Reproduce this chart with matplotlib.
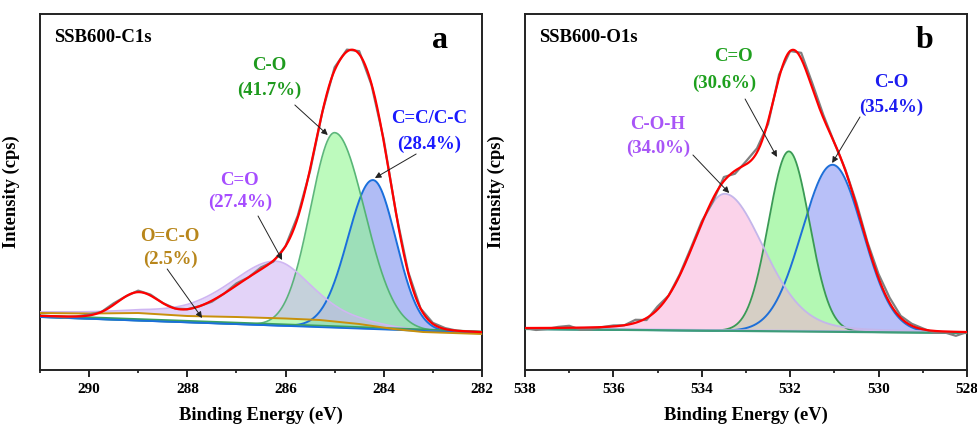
import numpy as np
import matplotlib
matplotlib.use('Agg')
from matplotlib import pyplot as plt

plt.rcParams['font.family'] = ['Liberation Serif', 'DejaVu Serif']
plt.rcParams['font.weight'] = 'bold'

# ---- C1s panel (a) ----
c1s_xlim = (291, 282)
c1s_ticks = [290, 288, 286, 284, 282]
c1s_baseline = (53, 37)          # intensity at 291 eV and 282 eV
# peak fit: centre (eV), height, hwhm high-BE side, hwhm low-BE side, lorentz fraction
c1s_names = ['C=C/C-C', 'C-O', 'C=O']
c1s_centres = [284.22, 285.0, 286.2]
c1s_heights = [149, 195, 57]
c1s_hw_hi = [0.6, 0.58, 1.1]
c1s_hw_lo = [0.55, 0.72, 0.85]
c1s_eta = [0.0, 0.0, 0.4]
# satellite hump seen only in the envelope
c1s_sat = (289.0, 25, 0.5)
# O=C-O curve (drawn as a line)
occo_e = [291, 290, 289, 288, 287, 286, 285.3, 284.5, 283.8, 283.2, 282]
occo_i = [57, 56.5, 57, 54, 53, 51.5, 50, 46, 41, 38, 36]
# raw data residuals around the envelope, 0.25 eV steps from 291 to 282
c1s_raw_e = np.arange(291, 281.99, -0.25)
c1s_raw_res = [0, 0, -1, 0, 1, 0, 1.5, 0, 1.5, 1, 0, 0, 0, 0, -1, 0, 2, 0, 2, -1,
               0, 2, -2, 0, 3, 2, 3, -1, 2, 0, 1, 0, 1, 1, 0, 0, 0]

# ---- O1s panel (b) ----
o1s_xlim = (538, 528)
o1s_ticks = [538, 536, 534, 532, 530, 528]
o1s_baseline = (41, 37)
o1s_names = ['C-O', 'C=O', 'C-O-H']
o1s_centres = [531.04, 532.03, 533.48]
o1s_heights = [167, 180, 137]
o1s_hw_hi = [0.81, 0.54, 0.88]
o1s_hw_lo = [0.8, 0.55, 1.05]
o1s_eta = [0.0, 0.0, 0.2]
# shoulder that only shows in the envelope
o1s_extra = (533.0, 27, 0.45)
o1s_raw_e = np.arange(538, 527.99, -0.25)
o1s_raw_res = [0, -2, -1, 1, 2, -2, -2, 0, 1, 0, 3, -2, 3, 0, 1, 2, 2, -3, 4, -3,
               3, 4, -3, 3, 0, 6, 5, 3, 0, 1, 3, 2, 4, 5, 2, 2, 1, -2, -1, -4, 0]


def peak(x, c, h, w_hi, w_lo, eta):
    w = np.where(x > c, w_hi, w_lo)
    u = (x - c) / w
    return h * ((1 - eta) * np.exp(-np.log(2) * u ** 2) + eta / (1 + u ** 2))


def line_base(x, xlim, base):
    return base[1] + (base[0] - base[1]) * (x - xlim[1]) / (xlim[0] - xlim[1])


def c1s_model(x):
    y = line_base(x, c1s_xlim, c1s_baseline)
    for i in range(3):
        y = y + peak(x, c1s_centres[i], c1s_heights[i], c1s_hw_hi[i], c1s_hw_lo[i], c1s_eta[i])
    return y + peak(x, c1s_sat[0], c1s_sat[1], c1s_sat[2], c1s_sat[2], 0)


def o1s_model(x):
    y = line_base(x, o1s_xlim, o1s_baseline)
    for i in range(3):
        y = y + peak(x, o1s_centres[i], o1s_heights[i], o1s_hw_hi[i], o1s_hw_lo[i], o1s_eta[i])
    return y + peak(x, o1s_extra[0], o1s_extra[1], o1s_extra[2], o1s_extra[2], 0)


fig = plt.figure(figsize=(9.78, 4.28), dpi=100)
ax1 = fig.add_axes([0.0409, 0.1355, 0.4519, 0.8318])
ax2 = fig.add_axes([0.5368, 0.1355, 0.4519, 0.8318])

# panel a
x = np.linspace(291, 282, 1200)
bl = line_base(x, c1s_xlim, c1s_baseline)
occo_line = np.interp(x[::-1], occo_e[::-1], occo_i[::-1])[::-1]
comps = [peak(x, c1s_centres[i], c1s_heights[i], c1s_hw_hi[i], c1s_hw_lo[i], c1s_eta[i])
         for i in range(3)]
ax1.fill_between(x, bl, bl + comps[0], color='#b0bcf5', lw=0, zorder=1)
ax1.fill_between(x, bl, bl + comps[1], color='#91f891', alpha=0.6, lw=0, zorder=2)
ax1.fill_between(x, occo_line, occo_line + comps[2], color='#cdb0f4', alpha=0.55, lw=0, zorder=3)
ax1.plot(x, bl + comps[0], color='#1a6fdc', lw=1.4, zorder=4)
ax1.plot(x, bl + comps[1], color='#4caf6e', lw=1.2, alpha=0.9, zorder=4)
ax1.plot(x, occo_line + comps[2], color='#cfb6f2', lw=1.2, zorder=4)
ax1.plot(x, bl + 1.5, color='#3aa060', lw=1.3, zorder=5)
ax1.plot(x, bl, color='#1a6fdc', lw=1.3, zorder=5)
ax1.plot(occo_e, occo_i, color='#c8900c', lw=1.4, zorder=6)
ax1.plot(c1s_raw_e, c1s_model(c1s_raw_e) + np.array(c1s_raw_res), color='#7f7f7f', lw=1.6, zorder=7)
ax1.plot(x, c1s_model(x), color='#ff0000', lw=1.6, zorder=8)

# panel b
x2 = np.linspace(538, 528, 1200)
bl2 = line_base(x2, o1s_xlim, o1s_baseline)
comps2 = [peak(x2, o1s_centres[i], o1s_heights[i], o1s_hw_hi[i], o1s_hw_lo[i], o1s_eta[i])
          for i in range(3)]
ax2.fill_between(x2, bl2, bl2 + comps2[0], color='#b8c0f8', lw=0, zorder=1)
ax2.fill_between(x2, bl2, bl2 + comps2[1], color='#b3f8b3', lw=0, zorder=2)
ax2.fill_between(x2, bl2, bl2 + comps2[2], color='#f9a8d7', alpha=0.5, lw=0, zorder=3)
ax2.plot(x2, bl2 + comps2[0], color='#1e6fd8', lw=1.4, zorder=4)
ax2.plot(x2, bl2 + comps2[1], color='#3a9a55', lw=1.3, zorder=4)
ax2.plot(x2, bl2 + comps2[2], color='#c4b6ea', lw=1.3, zorder=4)
ax2.plot(x2, bl2 + 0.8, color='#c9b8f0', lw=1.2, zorder=5)
ax2.plot(x2, bl2, color='#3d9c7a', lw=1.6, zorder=5)
ax2.plot(o1s_raw_e, o1s_model(o1s_raw_e) + np.array(o1s_raw_res), color='#7f7f7f', lw=1.6, zorder=7)
ax2.plot(x2, o1s_model(x2), color='#ff0000', lw=1.6, zorder=8)

for ax, xlim, ticks, title, letter in [(ax1, c1s_xlim, c1s_ticks, 'SSB600-C1s', 'a'),
                                        (ax2, o1s_xlim, o1s_ticks, 'SSB600-O1s', 'b')]:
    ax.set_xlim(*xlim)
    ax.set_ylim(0, 356)
    ax.set_xticks(ticks)
    ax.set_xticks(np.arange(min(xlim), max(xlim) + 0.5, 1), minor=True)
    ax.set_yticks([])
    ax.tick_params(axis='x', which='major', direction='out', length=5, width=1.2,
                   labelsize=11, pad=4)
    ax.tick_params(axis='x', which='minor', direction='out', length=2.5, width=1.1)
    for lab in ax.get_xticklabels():
        lab.set_fontweight('bold')
    for sp in ax.spines.values():
        sp.set_linewidth(1.4)
        sp.set_color('#222222')
    ax.set_xlabel('Binding Energy (eV)', fontsize=13.3, fontweight='bold', labelpad=8)
    ax.set_ylabel('Intensity (cps)', fontsize=13.3, fontweight='bold')
    ax.yaxis.set_label_coords(-0.045, 0.5)
    ax.text(0.032, 0.935, title, transform=ax.transAxes, fontsize=13.5, fontweight='bold',
            ha='left', va='center')
    ax.text(0.905, 0.925, letter, transform=ax.transAxes, fontsize=23, fontweight='bold',
            ha='center', va='center')

arrow = dict(arrowstyle='-|>', color='#222222', lw=0.7, mutation_scale=9, shrinkA=0, shrinkB=0)

# annotations: (name, percent, colour, name x, pct x, name y, pct y, arrow start, arrow end)
c1s_notes = [('C-O', '(41.7%)', '#1e9a1e', 286.34, 286.34, 304, 280, (285.81, 265), (285.14, 235)),
             ('C=C/C-C', '(28.4%)', '#1a1aff', 283.08, 283.08, 251, 226, (283.34, 216), (284.18, 192)),
             ('C=O', '(27.4%)', '#a64dff', 286.93, 286.93, 190, 168, (286.56, 154), (286.07, 110)),
             ('O=C-O', '(2.5%)', '#b8861b', 288.35, 288.35, 134, 111, (288.41, 101), (287.70, 52))]
o1s_notes = [('C=O', '(30.6%)', '#1ea01e', 533.29, 533.50, 313, 287, (533.02, 271), (532.30, 213)),
             ('C-O', '(35.4%)', '#1c1cf0', 529.72, 529.72, 287, 263, (530.42, 253), (531.05, 207)),
             ('C-O-H', '(34.0%)', '#a855f7', 534.99, 534.99, 245, 222, (534.20, 215), (533.38, 177))]

for ax, notes in [(ax1, c1s_notes), (ax2, o1s_notes)]:
    for name, pct, col, nx, px, ny, py, a0, a1 in notes:
        ax.text(nx, ny, name, color=col, fontsize=13.5, fontweight='bold',
                ha='center', va='center', zorder=10)
        ax.text(px, py, pct, color=col, fontsize=13.5, fontweight='bold',
                ha='center', va='center', zorder=10)
        ax.annotate('', xy=a1, xytext=a0, arrowprops=arrow, zorder=10)

fig.savefig('out.png', dpi=100)
